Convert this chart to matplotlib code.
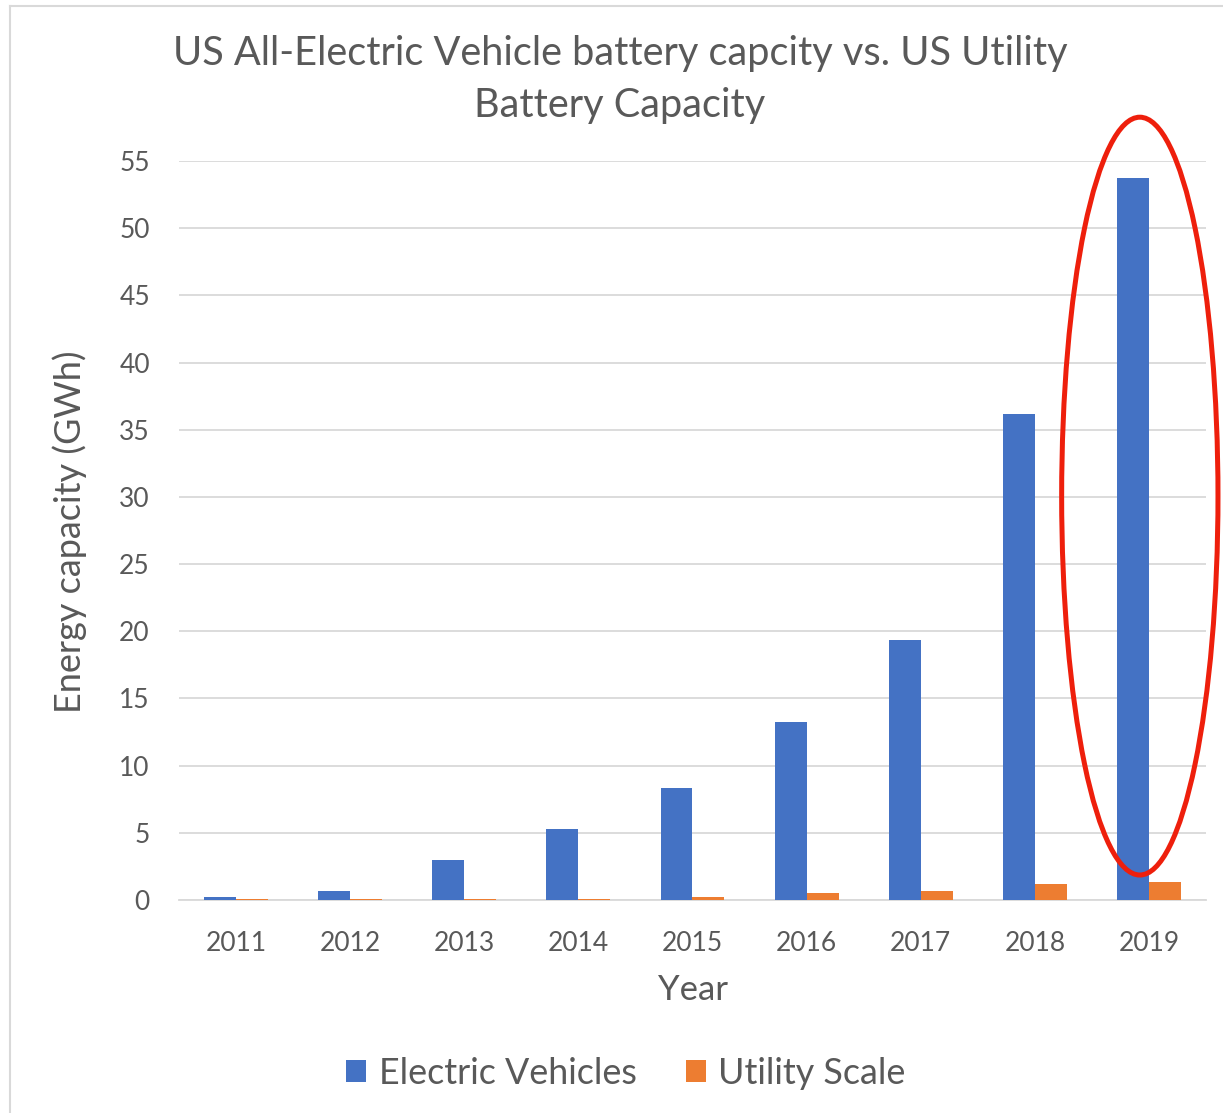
import matplotlib
matplotlib.use("Agg")
import matplotlib.pyplot as plt
from matplotlib.patches import Ellipse, Patch
import numpy as np

years = ["2011", "2012", "2013", "2014", "2015", "2016", "2017", "2018", "2019"]
ev_gwh = [0.22, 0.69, 3.0, 5.26, 8.33, 13.24, 19.35, 36.2, 53.7]
utility_gwh = [0.08, 0.1, 0.1, 0.1, 0.23, 0.54, 0.69, 1.19, 1.36]
yticks = [0, 5, 10, 15, 20, 25, 30, 35, 40, 45, 50, 55]

title = "US All-Electric Vehicle battery capcity vs. US Utility\nBattery Capacity"
ylabel = "Energy capacity (GWh)"
xlabel = "Year"
series_names = ["Electric Vehicles", "Utility Scale"]

BLUE = "#4472C4"
ORANGE = "#ED7D31"
TEXT = "#595959"
GRID = "#D9D9D9"

plt.rcParams['font.family'] = ['Lato', 'DejaVu Sans']

W, H = 1223, 1113
fig = plt.figure(figsize=(W / 100, H / 100), dpi=100)
fig.patch.set_facecolor("white")

# chart border (left and top visible)
fig.add_artist(plt.Line2D([10.5 / W, 10.5 / W], [0, 1 - 5.5 / H], transform=fig.transFigure,
                          color="#D9D9D9", lw=1.5))
fig.add_artist(plt.Line2D([10.5 / W, 1], [1 - 5.5 / H, 1 - 5.5 / H], transform=fig.transFigure,
                          color="#D9D9D9", lw=1.5))

left, right, top, bottom = 179, 1206, 161, 900
ax = fig.add_axes([left / W, 1 - bottom / H, (right - left) / W, (bottom - top) / H])

x = np.arange(len(years))
bw = 0.28
ax.bar(x - bw / 2, ev_gwh, width=bw, color=BLUE, zorder=3, label=series_names[0])
ax.bar(x + bw / 2, utility_gwh, width=bw, color=ORANGE, zorder=3, label=series_names[1])

ax.set_xlim(-0.5, len(years) - 0.5)
ax.set_ylim(0, 55)
ax.set_yticks(yticks)
ax.set_xticks(x)
ax.set_xticklabels(years)
ax.yaxis.grid(True, color=GRID, lw=1.3, zorder=0)
ax.set_axisbelow(True)
for s in ["top", "right", "left"]:
    ax.spines[s].set_visible(False)
ax.spines["bottom"].set_color(GRID)
ax.spines["bottom"].set_linewidth(1.3)
ax.tick_params(axis="both", length=0, labelsize=19, colors=TEXT)
ax.tick_params(axis="x", pad=22)
ax.tick_params(axis="y", pad=21)

ax.set_xlabel(xlabel, fontsize=25, color=TEXT, labelpad=13)
fig.text(70 / W, 1 - 532 / H, ylabel, rotation=90, ha="center", va="center",
         fontsize=26, color=TEXT)

fig.text(620 / W, 1 - 79 / H, title, ha="center", va="center", fontsize=28.6,
         color=TEXT, linespacing=1.5)

# red ellipse highlighting 2019
ell = Ellipse((7.92, 30.06), width=1.37, height=56.4, fill=False, edgecolor="#EE1F0C",
              lw=3.6, zorder=5, clip_on=False)
ax.add_patch(ell)

handles = [Patch(facecolor=BLUE), Patch(facecolor=ORANGE)]
fig.legend(handles, series_names, loc="center", bbox_to_anchor=(626 / W, 1 - 1073 / H),
           ncol=2, frameon=False, fontsize=25.8, handlelength=0.56, handleheight=0.56,
           handletextpad=0.34, columnspacing=1.38, labelcolor=TEXT)

fig.savefig("out.png", dpi=100, facecolor="white")
